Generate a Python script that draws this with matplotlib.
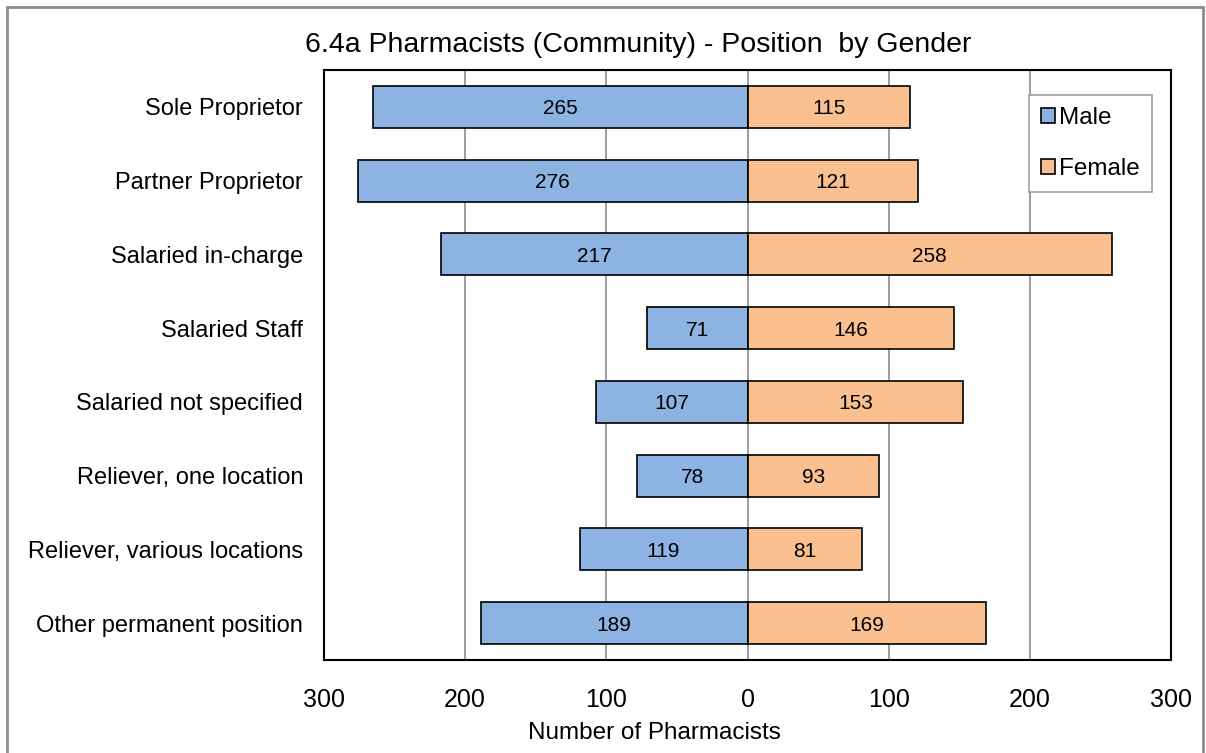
import matplotlib.pyplot as plt
from matplotlib.patches import Rectangle

plt.rcParams['font.family'] = ['Liberation Sans', 'DejaVu Sans']

positions = ['Sole Proprietor', 'Partner Proprietor', 'Salaried in-charge', 'Salaried Staff',
             'Salaried not specified', 'Reliever, one location', 'Reliever, various locations',
             'Other permanent position']
male = [265, 276, 217, 71, 107, 78, 119, 189]
female = [115, 121, 258, 146, 153, 93, 81, 169]

fig = plt.figure(figsize=(12.06, 7.53), dpi=100)
# outer chart frame
fig.patches.append(Rectangle((7/1206, -0.05), 1196/1206, 1 - 7/753 + 0.05, transform=fig.transFigure,
                             fill=False, edgecolor='#8c8c8c', linewidth=2))
ax = fig.add_axes([324/1206, 1 - 660/753, 847/1206, 590/753])

y = list(range(len(positions)))
ax.barh(y, [-m for m in male], height=0.57, color='#8DB3E2', edgecolor='black', linewidth=1.2,
        label='Male', zorder=3)
ax.barh(y, female, height=0.57, color='#FAC090', edgecolor='black', linewidth=1.2,
        label='Female', zorder=3)
for i in y:
    ax.text(-male[i] / 2, i, str(male[i]), ha='center', va='center_baseline', fontsize=15, zorder=4)
    ax.text(female[i] / 2, i, str(female[i]), ha='center', va='center_baseline', fontsize=15, zorder=4)

ax.set_ylim(len(positions) - 0.5, -0.5)
ax.set_yticks(y)
ax.set_yticklabels(positions, fontsize=17)
ax.set_xlim(-300, 300)
ax.set_xticks([-300, -200, -100, 0, 100, 200, 300])
ax.set_xticklabels(['300', '200', '100', '0', '100', '200', '300'], fontsize=18)
ax.tick_params(axis='both', length=0)
ax.tick_params(axis='x', pad=20)
ax.tick_params(axis='y', pad=15)
for xv in [-200, -100, 0, 100, 200]:
    ax.axvline(xv, color='#8c8c8c', linewidth=1.2, zorder=1)
for s in ax.spines.values():
    s.set_linewidth(1.5)
    s.set_color('black')

fig.text(654/1206, 1 - 733/753, 'Number of Pharmacists', fontsize=17.5, ha='center', va='center')
fig.text(638/1206, 1 - 45/753, '6.4a Pharmacists (Community) - Position  by Gender', fontsize=20.5,
         ha='center', va='center')

leg = ax.legend(loc='upper left', bbox_to_anchor=(1029/1206, 1 - 95/753), bbox_transform=fig.transFigure,
                fontsize=17.5, handlelength=0.55, handleheight=0.55, handletextpad=0.2, labelspacing=1.2,
                borderpad=0.5, borderaxespad=0, fancybox=False, edgecolor='#a0a0a0', framealpha=1)
leg.get_frame().set_linewidth(1.2)

fig.savefig('out.png', dpi=100)
